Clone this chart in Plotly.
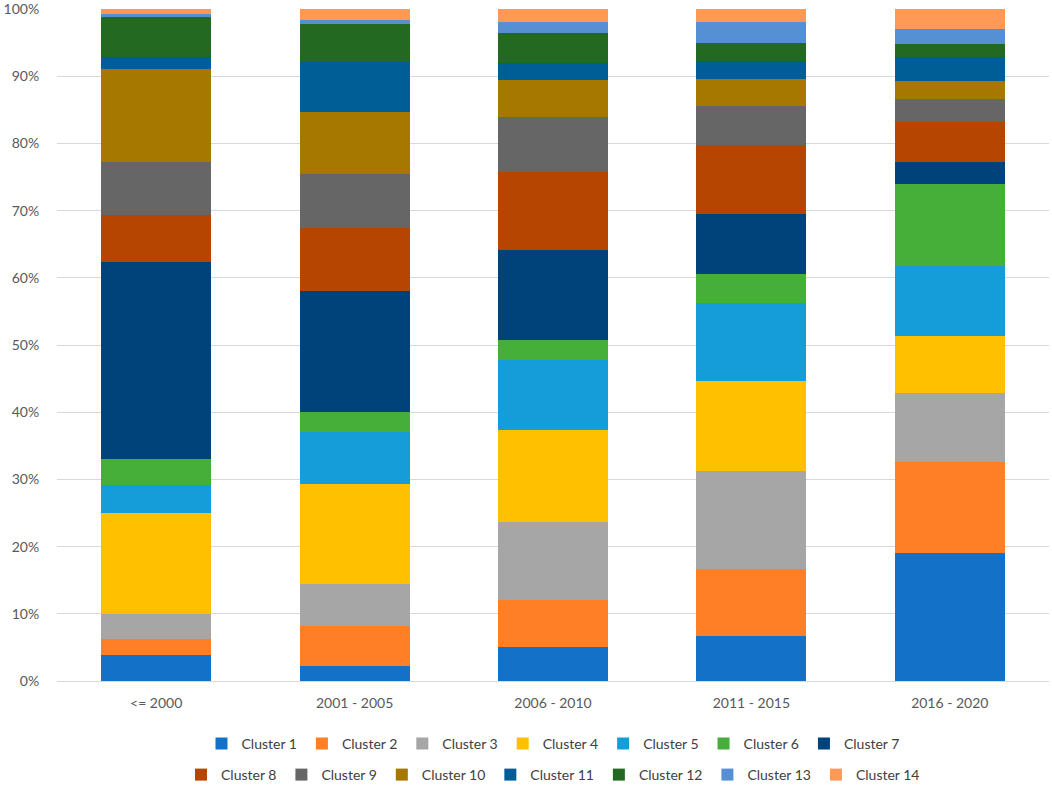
import plotly.graph_objects as go

categories = ["<= 2000", "2001 - 2005", "2006 - 2010", "2011 - 2015", "2016 - 2020"]

cluster_names = [f"Cluster {i}" for i in range(1, 15)]

c1 = [3.8, 2.3, 5.0, 6.7, 19.0]
c2 = [2.4, 5.9, 7.1, 9.9, 13.6]
c3 = [3.7, 6.2, 11.5, 14.6, 10.3]
c4 = [15.1, 14.9, 13.7, 13.5, 8.5]
c5 = [4.2, 7.7, 10.4, 11.5, 10.4]
c6 = [3.9, 3.0, 3.1, 4.4, 12.2]
c7 = [29.2, 18.1, 13.4, 8.9, 3.2]
c8 = [7.0, 9.3, 11.5, 10.2, 6.0]
c9 = [7.9, 8.1, 8.2, 5.9, 3.4]
c10 = [13.9, 9.2, 5.5, 4.0, 2.7]
c11 = [1.7, 7.4, 2.5, 2.7, 3.5]
c12 = [6.0, 5.7, 4.6, 2.7, 2.0]
c13 = [0.4, 0.5, 1.5, 3.0, 2.2]
c14 = [0.8, 1.7, 2.0, 2.0, 3.0]

series = [c1, c2, c3, c4, c5, c6, c7, c8, c9, c10, c11, c12, c13, c14]

ytick_vals = [0, 10, 20, 30, 40, 50, 60, 70, 80, 90, 100]
ytick_text = ["0%", "10%", "20%", "30%", "40%", "50%", "60%", "70%", "80%", "90%", "100%"]

colors = ["#1372C8", "#FF7F27", "#A6A6A6", "#FFC000", "#159DD9", "#46AF3A", "#00427A",
          "#B54500", "#666666", "#A67800", "#005E96", "#236922", "#5490D3", "#FF9955"]

fig = go.Figure()
for i, (name, vals, col) in enumerate(zip(cluster_names, series, colors)):
    fig.add_trace(go.Bar(
        x=categories, y=vals, name=name,
        marker=dict(color=col, line=dict(width=0)),
        legend="legend" if i < 7 else "legend2",
    ))

font_family = "Lato, 'Open Sans', sans-serif"
legend_common = dict(
    orientation="h", xanchor="center", x=0.5, yanchor="middle", yref="container",
    font=dict(family=font_family, size=14, color="#404040"),
    bgcolor="rgba(0,0,0,0)", itemclick=False, itemdoubleclick=False,
    traceorder="normal", tracegroupgap=0,
)

fig.update_layout(
    width=1052, height=785,
    barmode="stack", barnorm="percent", bargap=0.445,
    paper_bgcolor="white", plot_bgcolor="white",
    margin=dict(l=57, r=3, t=9, b=104, autoexpand=False),
    font=dict(family=font_family, size=14, color="#595959"),
    showlegend=True,
    legend=dict(y=1 - 744 / 785, **legend_common),
    legend2=dict(y=1 - 775 / 785, **legend_common),
)

fig.update_yaxes(
    range=[0, 100], tickmode="array", tickvals=ytick_vals, ticktext=ytick_text,
    automargin=False, ticklabeloverflow="allow",
    showgrid=True, gridcolor="#D9D9D9", gridwidth=1,
    zeroline=True, zerolinecolor="#D9D9D9", zerolinewidth=1,
    showline=False, ticks="outside", ticklen=14, tickcolor="rgba(0,0,0,0)",
    tickfont=dict(family=font_family, size=14, color="#595959"),
)
fig.update_xaxes(
    showline=True, linecolor="#D9D9D9", linewidth=1, automargin=False,
    ticks="outside", ticklen=9, tickcolor="rgba(0,0,0,0)",
    tickfont=dict(family=font_family, size=14, color="#595959"),
)

fig.write_html("out.html", config={"displayModeBar": False},
               post_script="document.body.style.margin='0px';")
